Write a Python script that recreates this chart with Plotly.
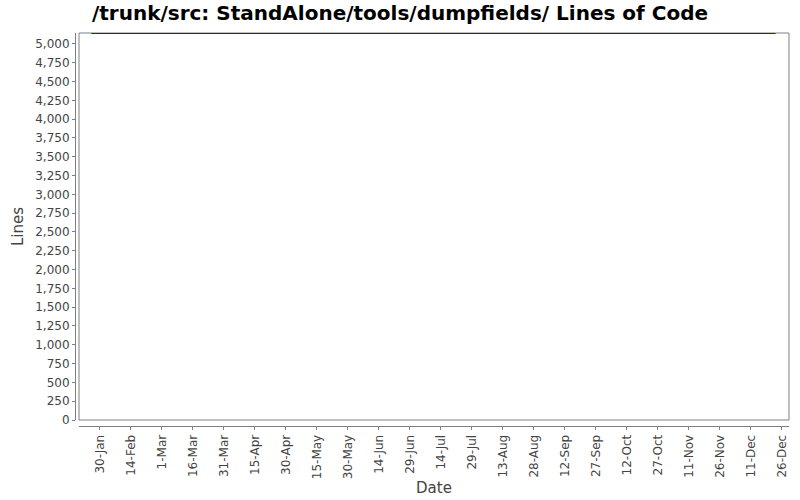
import plotly.graph_objects as go

# data
dates = ['2009-01-26', '2009-12-23']
lines = [5146, 5146]

x_range = ['2009-01-20', '2009-12-29 12:00']
y_range = [0, 5146]
x_tick0 = '2009-01-30'
x_tick_days = 15
y_tick_step = 250

title = '/trunk/src: StandAlone/tools/dumpfields/ Lines of Code'
grey = '#808080'
font_txt = '#444444'

fig = go.Figure()
fig.add_trace(go.Scatter(
    x=dates,
    y=lines,
    mode='lines',
    line=dict(color='#8b0000', width=2),
    hoverinfo='x+y',
    cliponaxis=False,
))

# paper: l=75, r=11 -> width 714 ; t=33, b=74 -> height 393
fig.update_layout(
    width=800, height=500,
    margin=dict(l=75, r=11, t=33, b=74, autoexpand=False),
    paper_bgcolor='white',
    plot_bgcolor='white',
    showlegend=False,
    font=dict(family='DejaVu Sans', size=12, color=font_txt),
    title=dict(
        text=title,
        x=0.5, xref='container', xanchor='center',
        y=0.974, yref='container', yanchor='middle',
        font=dict(family='DejaVu Sans', size=20, color='black', weight='bold'),
        automargin=False,
    ),
    xaxis=dict(
        type='date',
        range=x_range,
        domain=[4 / 714, 1],
        anchor='free',
        position=0,
        automargin=False,
        showgrid=False,
        zeroline=False,
        showline=True,
        linecolor=grey,
        linewidth=1,
        ticks='outside',
        ticklen=3,
        tickcolor=grey,
        tick0=x_tick0,
        dtick=x_tick_days * 86400000,
        tickformat='%-d-%b',
        tickangle=-90,
        tickfont=dict(size=12, color=font_txt),
        title=dict(text='Date', font=dict(size=15, color=font_txt), standoff=4),
    ),
    yaxis=dict(
        range=y_range,
        domain=[6 / 393, 1],
        anchor='free',
        position=0,
        automargin=False,
        showgrid=False,
        zeroline=False,
        showline=True,
        linecolor=grey,
        linewidth=1,
        ticks='outside',
        ticklen=3,
        tickcolor=grey,
        tick0=0,
        dtick=y_tick_step,
        tickformat=',d',
        tickfont=dict(size=12, color=font_txt),
        title=dict(text='Lines', font=dict(size=15, color=font_txt), standoff=6),
    ),
)

# plot frame
fig.add_shape(
    type='rect', xref='x domain', yref='y domain',
    x0=0, x1=1, y0=0, y1=1,
    line=dict(color=grey, width=1),
    layer='below',
)

# drop the browser's default body margin so the 800x500 figure fits the window
fig.write_html('out.html', config={'displayModeBar': False},
               post_script="document.body.style.margin='0';")
